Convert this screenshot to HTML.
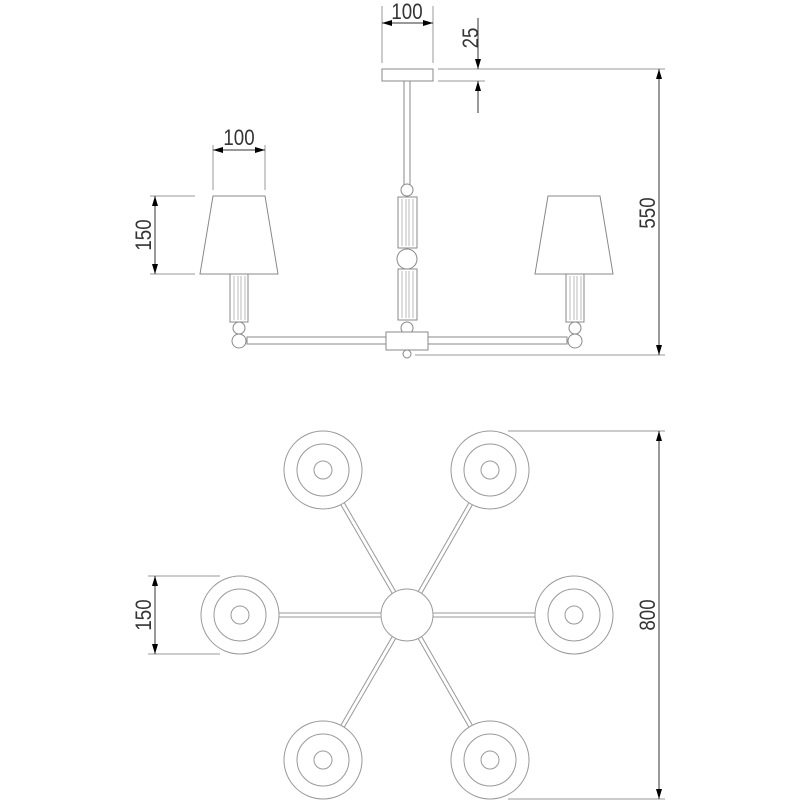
<!DOCTYPE html>
<html><head><style>html,body{margin:0;padding:0;background:#fff}svg{display:block}</style></head><body>
<svg width="800" height="800" viewBox="0 0 800 800" xmlns="http://www.w3.org/2000/svg" font-family="Liberation Sans, sans-serif">
<defs>
<marker id="a" viewBox="0 0 10 10" refX="10" refY="5" markerWidth="10" markerHeight="10" markerUnits="userSpaceOnUse" orient="auto-start-reverse"><path d="M0,2 L10,5 L0,8 z" fill="#000"/></marker>
</defs>
<g fill="none" stroke="#999" stroke-width="1">
<line x1="382" y1="6" x2="382" y2="63"/><line x1="433" y1="6" x2="433" y2="63"/>
<line x1="438" y1="69" x2="665" y2="69"/><line x1="438" y1="81" x2="485" y2="81"/>
<line x1="415" y1="355" x2="665" y2="355"/>
<line x1="213" y1="145" x2="213" y2="190"/><line x1="265" y1="145" x2="265" y2="190"/>
<line x1="150" y1="196" x2="195" y2="196"/><line x1="150" y1="274" x2="195" y2="274"/>
<line x1="508" y1="431" x2="665" y2="431"/><line x1="508" y1="799" x2="665" y2="799"/>
<line x1="148" y1="576" x2="220" y2="576"/><line x1="148" y1="654" x2="220" y2="654"/>
</g>
<g stroke="#333" stroke-width="1" fill="none">
<line x1="382" y1="23" x2="433" y2="23" marker-start="url(#a)" marker-end="url(#a)"/>
<line x1="213" y1="150" x2="265" y2="150" marker-start="url(#a)" marker-end="url(#a)"/>
<line x1="478" y1="18" x2="478" y2="69" marker-end="url(#a)"/>
<line x1="478" y1="113" x2="478" y2="81" marker-end="url(#a)"/>
<line x1="659" y1="69" x2="659" y2="355" marker-start="url(#a)" marker-end="url(#a)"/>
<line x1="155" y1="196" x2="155" y2="274" marker-start="url(#a)" marker-end="url(#a)"/>
<line x1="659" y1="431" x2="659" y2="799" marker-start="url(#a)" marker-end="url(#a)"/>
<line x1="155" y1="576" x2="155" y2="654" marker-start="url(#a)" marker-end="url(#a)"/>
</g>
<g fill="#333" font-size="22">
<text transform="translate(407,19) scale(0.85,1)" text-anchor="middle">100</text>
<text transform="translate(239,145) scale(0.85,1)" text-anchor="middle">100</text>
<text transform="translate(478,38) rotate(-90) scale(0.85,1)" text-anchor="middle">25</text>
<text transform="translate(655,213) rotate(-90) scale(0.85,1)" text-anchor="middle">550</text>
<text transform="translate(151,235) rotate(-90) scale(0.85,1)" text-anchor="middle">150</text>
<text transform="translate(655,615) rotate(-90) scale(0.85,1)" text-anchor="middle">800</text>
<text transform="translate(151,615) rotate(-90) scale(0.85,1)" text-anchor="middle">150</text>
</g>
<g fill="#fff" stroke="#888" stroke-width="1">
<rect x="382" y="69" width="51" height="12"/>
<rect x="404" y="81" width="6" height="104"/>
<rect x="247" y="337" width="320" height="7"/>
<circle cx="407" cy="190" r="6"/>
<rect x="398" y="197" width="19" height="51"/>
<circle cx="407" cy="259" r="10"/>
<rect x="398" y="269" width="19" height="51"/>
<circle cx="407" cy="328" r="6"/>
<rect x="386" y="332" width="42" height="18"/>
<circle cx="407" cy="354" r="4"/>
<path d="M213,196 L265,196 L278,274 L200,274 Z"/>
<rect x="230" y="274" width="18" height="48"/>
<circle cx="239" cy="328" r="6"/><circle cx="239" cy="341" r="7"/>
<path d="M548,196 L600,196 L613,274 L535,274 Z"/>
<rect x="566" y="274" width="18" height="48"/>
<circle cx="575" cy="328" r="6"/><circle cx="575" cy="341" r="7"/>
</g>
<g stroke="#aaa" stroke-width="0.8">
<line x1="402" y1="199" x2="402" y2="246"/><line x1="406" y1="199" x2="406" y2="246"/><line x1="409" y1="199" x2="409" y2="246"/><line x1="413" y1="199" x2="413" y2="246"/>
<line x1="402" y1="271" x2="402" y2="318"/><line x1="406" y1="271" x2="406" y2="318"/><line x1="409" y1="271" x2="409" y2="318"/><line x1="413" y1="271" x2="413" y2="318"/>
<line x1="234" y1="276" x2="234" y2="320"/><line x1="238" y1="276" x2="238" y2="320"/><line x1="241" y1="276" x2="241" y2="320"/><line x1="245" y1="276" x2="245" y2="320"/>
<line x1="570" y1="276" x2="570" y2="320"/><line x1="574" y1="276" x2="574" y2="320"/><line x1="577" y1="276" x2="577" y2="320"/><line x1="581" y1="276" x2="581" y2="320"/>
</g>
<g stroke="#999" stroke-width="5">
<line x1="407" y1="615" x2="323" y2="470"/><line x1="407" y1="615" x2="490" y2="470"/>
<line x1="407" y1="615" x2="240" y2="615"/><line x1="407" y1="615" x2="574" y2="615"/>
<line x1="407" y1="615" x2="323" y2="760"/><line x1="407" y1="615" x2="490" y2="760"/>
</g>
<g stroke="#fff" stroke-width="3">
<line x1="407" y1="615" x2="323" y2="470"/><line x1="407" y1="615" x2="490" y2="470"/>
<line x1="407" y1="615" x2="240" y2="615"/><line x1="407" y1="615" x2="574" y2="615"/>
<line x1="407" y1="615" x2="323" y2="760"/><line x1="407" y1="615" x2="490" y2="760"/>
</g>
<g fill="#fff" stroke="#999" stroke-width="1">
<circle cx="407" cy="615" r="26"/>
<g transform="translate(323,470)"><circle r="39"/><circle r="26"/><circle r="9"/></g>
<g transform="translate(490,470)"><circle r="39"/><circle r="26"/><circle r="9"/></g>
<g transform="translate(240,615)"><circle r="39"/><circle r="26"/><circle r="9"/></g>
<g transform="translate(574,615)"><circle r="39"/><circle r="26"/><circle r="9"/></g>
<g transform="translate(323,760)"><circle r="39"/><circle r="26"/><circle r="9"/></g>
<g transform="translate(490,760)"><circle r="39"/><circle r="26"/><circle r="9"/></g>
</g>
</svg>
</body></html>
